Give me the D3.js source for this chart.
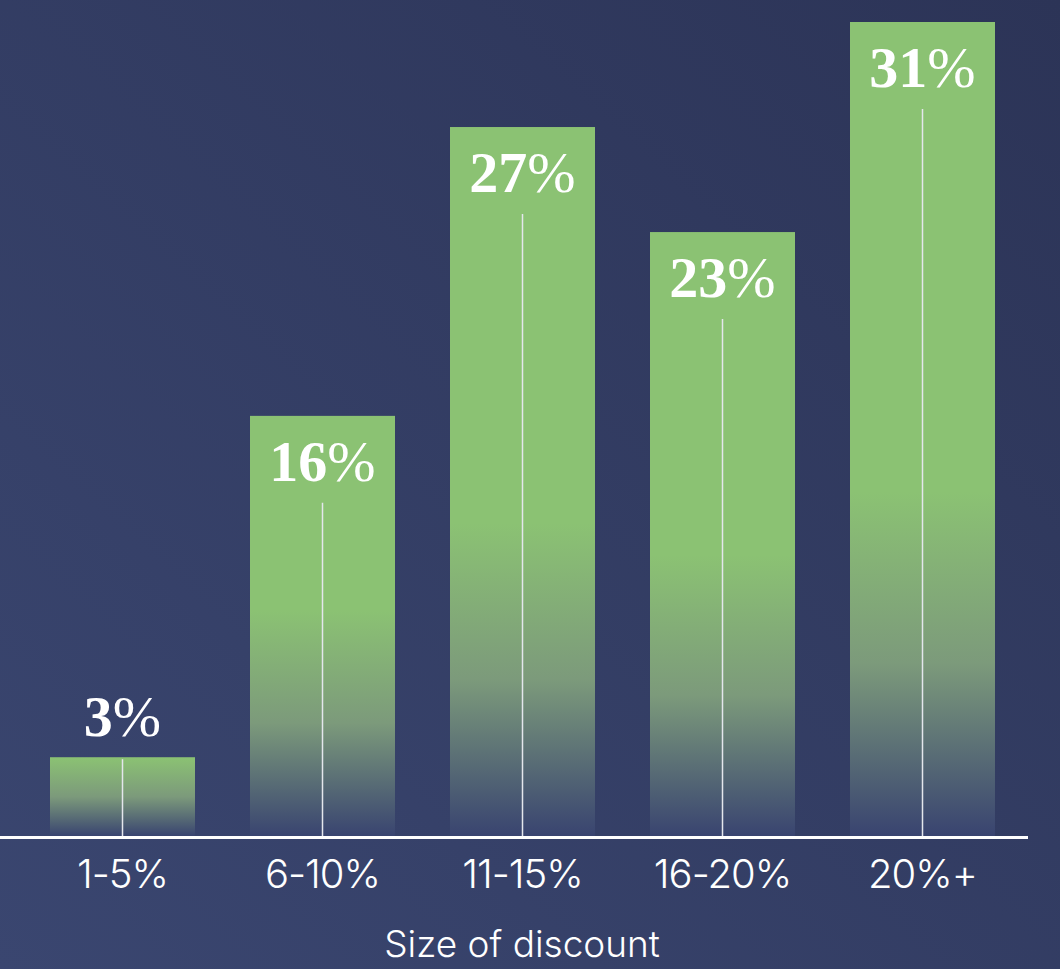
<!DOCTYPE html>
<html>
<head>
<meta charset="utf-8">
<script src="https://cdn.jsdelivr.net/npm/d3@7"></script>
<style>
  html, body { margin: 0; padding: 0; background: #323c64; }
  svg { display: block; }
</style>
</head>
<body>
<div id="chart"></div>
<script>
// chart data
var categories = ["1-5%", "6-10%", "11-15%", "16-20%", "20%+"]
var values = [3, 16, 27, 23, 31]
var axisTitle = "Size of discount"

var width = 1060,
    height = 969

var baseY = 836

var svg = d3.select("#chart")
  .append("svg")
    .attr("width", width)
    .attr("height", height)

var defs = svg.append("defs")

// background gradient, slightly lighter on the left
var bg = defs.append("linearGradient")
    .attr("id", "bg")
    .attr("x1", "0").attr("y1", "1")
    .attr("x2", "1").attr("y2", "0")
bg.append("stop").attr("offset", "0%").attr("stop-color", "#3a4670")
bg.append("stop").attr("offset", "100%").attr("stop-color", "#2c3457")

svg.append("rect")
    .attr("width", width)
    .attr("height", height)
    .attr("fill", "url(#bg)")

// scales
var x = d3.scaleBand()
    .domain(categories)
    .range([22, 1023])
    .paddingInner(0.275)
    .paddingOuter(0.14)

var y = d3.scaleLinear()
    .domain([0, 31])
    .range([baseY, 22])

var data = categories.map(function(c, i) { return { key: c, value: values[i] } })

// one gradient per bar, the fade to the bottom gets longer with bar height
data.forEach(function(d, i) {
  var h = baseY - y(d.value)
  var fade = Math.min(h, 100 + 0.3 * h)
  var g = defs.append("linearGradient")
      .attr("id", "bar" + i)
      .attr("x1", 0).attr("y1", 0)
      .attr("x2", 0).attr("y2", 1)
  g.append("stop").attr("offset", 0).attr("stop-color", "#8bc273")
  g.append("stop").attr("offset", (1 - fade / h)).attr("stop-color", "#8bc273")
  g.append("stop").attr("offset", 1 - fade / h * 0.5).attr("stop-color", "#7c9a7b")
  g.append("stop").attr("offset", 1).attr("stop-color", "#394470")
})

var bars = svg.append("g")

bars.selectAll("rect")
  .data(data)
  .enter()
  .append("rect")
    .attr("x", function(d) { return x(d.key) })
    .attr("y", function(d) { return y(d.value) })
    .attr("width", x.bandwidth())
    .attr("height", function(d) { return baseY - y(d.value) })
    .attr("fill", function(d, i) { return "url(#bar" + i + ")" })

// thin centre lines
bars.selectAll("line")
  .data(data)
  .enter()
  .append("line")
    .attr("x1", function(d) { return x(d.key) + x.bandwidth() / 2 })
    .attr("x2", function(d) { return x(d.key) + x.bandwidth() / 2 })
    .attr("y1", function(d) { return d.value < 5 ? y(d.value) + 2 : y(d.value) + 87 })
    .attr("y2", baseY)
    .attr("stroke", "#e4e6ec")
    .attr("stroke-width", 1.5)

// value labels: bold serif digits, lighter percent sign
var labels = svg.append("g")
  .selectAll("text")
  .data(data)
  .enter()
  .append("text")
    .attr("x", function(d) { return x(d.key) + x.bandwidth() / 2 })
    .attr("y", function(d) { return d.value < 5 ? y(d.value) - 21 : y(d.value) + 65 })
    .attr("text-anchor", "middle")
    .attr("fill", "#ffffff")
    .style("font-family", "'Liberation Serif', 'DejaVu Serif', serif")
    .style("font-size", "58px")

labels.append("tspan")
    .style("font-weight", "bold")
    .text(function(d) { return d.value })
labels.append("tspan")
    .style("font-weight", "normal")
    .text("%")

// baseline
svg.append("line")
    .attr("x1", 0)
    .attr("x2", 1028)
    .attr("y1", baseY + 1.5)
    .attr("y2", baseY + 1.5)
    .attr("stroke", "#ffffff")
    .attr("stroke-width", 3)

// category axis
var xAxis = svg.append("g")
    .attr("transform", "translate(0," + baseY + ")")
    .call(d3.axisBottom(x).tickSize(0).tickPadding(24))

xAxis.select(".domain").remove()
xAxis.selectAll("text")
    .attr("fill", "#ffffff")
    .style("font-family", "Inter, 'Open Sans', sans-serif")
    .style("font-weight", 300)
    .style("font-size", "40px")
    .style("letter-spacing", "-1px")

svg.append("text")
    .attr("x", 522)
    .attr("y", 957)
    .attr("text-anchor", "middle")
    .attr("fill", "#ffffff")
    .style("font-family", "Inter, 'Open Sans', sans-serif")
    .style("font-weight", 300)
    .style("font-size", "37px")
    .text(axisTitle)
</script>
</body>
</html>
